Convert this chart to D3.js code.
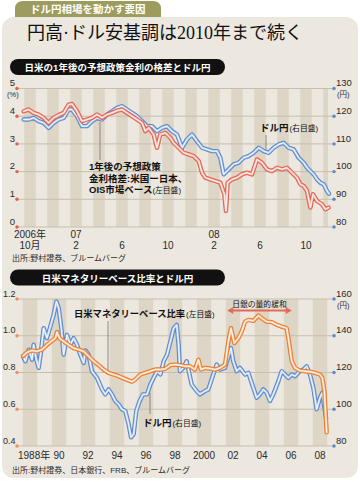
<!DOCTYPE html>
<html><head><meta charset="utf-8">
<script src="https://cdn.jsdelivr.net/npm/d3@7"></script>
<style>body{margin:0;background:#fff;} svg{display:block;}</style>
</head><body><svg id="c" width="360" height="482"></svg>
<script>
// ---------- Chart 1 data (months since Oct 2006) ----------
const rateMonths = [-0.55,-0.12,0.32,0.75,1.19,1.62,2.06,2.49,2.93,3.36,3.65,4.09,4.52,4.96,5.39,5.83,6.26,6.70,7.13,7.57,8.00,8.43,8.87,9.30,9.74,10.03,10.32,10.75,11.04,11.33,11.77,12.2,12.49,12.93,13.36,13.8,14.23,14.67,14.96,15.25,15.68,16.12,16.55,16.9,17.04,17.19,17.57,18.0,18.43,18.87,19.3,19.74,20.17,20.61,21.04,21.48,21.91,22.35,22.78,23.22,23.51,23.8,24.09,24.38,24.61,24.96,25.39,25.68,25.97];
const rateDiff = [4.18,4.24,4.12,4.06,3.94,3.76,3.94,4.04,4.12,4.42,4.44,4.18,3.82,3.88,3.94,4.06,3.94,4.06,4.12,4.2,4.24,4.12,4.0,3.88,3.76,3.46,3.58,3.34,2.86,3.34,3.4,3.22,3.04,2.86,2.68,2.62,2.56,2.38,1.96,1.78,1.72,1.66,1.6,1.18,0.58,1.6,1.72,1.78,1.9,1.96,1.9,2.44,2.32,2.08,2.02,2.14,2.08,2.14,1.96,1.78,1.54,1.48,1.3,0.7,1.18,0.94,0.82,0.64,0.7];
const yenMonths = [-0.55,-0.12,0.32,0.75,1.19,1.62,2.06,2.49,2.93,3.36,3.65,4.09,4.52,4.96,5.39,5.83,6.26,6.70,7.13,7.57,8.00,8.43,8.87,9.30,9.74,10.17,10.61,11.04,11.48,11.91,12.35,12.78,13.22,13.65,14.09,14.52,14.96,15.39,15.83,16.26,16.55,16.84,17.28,17.71,18.14,18.58,19.01,19.45,19.88,20.32,20.75,21.19,21.62,22.06,22.49,22.93,23.36,23.8,24.09,24.38,24.67,24.96,25.25,25.54,25.83,26.0];
const usdJpy1 = [118.8,118.8,119.4,118.2,117.6,115.8,117.6,118.8,119.4,122.4,122.4,120,116.4,116.4,118.2,119.4,118.8,120.6,121.8,123,123.6,122.4,121.2,120,118.2,116.4,116.4,114.6,115.8,116.4,114.6,113.4,108.6,111.6,113.4,111,108.6,108,107.4,107.4,105,99,100.8,102.6,103.2,105,105.6,106.8,108.6,107.4,106.8,108.6,109.8,110.4,108.6,108,105,103.2,101.4,100.2,99,97.2,96,95.4,93,92];
const xTicks1 = [0,4,8,12,16,20,24];
const xTop1 = ["2006年","07","","","08","",""];
const xBottom1 = ["10月","2","6","10","2","6","10"];
const leftTicks1 = [0,1,2,3,4,5];
const rightTicks1 = [80,90,100,110,120,130];

// ---------- Chart 2 data (decimal years) ----------
const baseYears = [1988.02,1988.29,1988.64,1988.98,1989.33,1989.67,1990.02,1990.25,1990.36,1990.55,1990.82,1991.17,1991.51,1991.86,1992.2,1992.55,1992.89,1993.24,1993.58,1993.92,1994.27,1994.61,1994.96,1995.3,1995.53,1995.76,1996.11,1996.45,1996.8,1997.14,1997.49,1997.83,1998.18,1998.5,1998.84,1999.19,1999.53,1999.88,2000.11,2000.29,2000.57,2000.91,2001.26,2001.6,2001.95,2002.18,2002.36,2002.59,2002.87,2003.1,2003.33,2003.56,2003.9,2004.25,2004.48,2004.82,2005.17,2005.51,2005.86,2006.2,2006.32,2006.55,2006.78,2007.12,2007.47,2007.81,2008.16,2008.5,2008.66,2008.8,2008.89,2008.96];
const baseRatio = [0.89,0.91,0.92,0.915,0.925,0.95,0.973,0.987,1.02,0.984,0.97,0.95,0.933,0.924,0.915,0.888,0.861,0.84,0.816,0.798,0.789,0.78,0.768,0.757,0.75,0.762,0.789,0.798,0.807,0.816,0.816,0.82,0.84,0.843,0.84,0.834,0.834,0.816,0.87,0.816,0.825,0.822,0.816,0.825,0.843,0.969,1.041,0.96,0.987,1.023,1.077,1.086,1.081,1.11,1.095,1.077,1.074,1.06,1.05,1.041,0.987,0.861,0.825,0.81,0.807,0.804,0.798,0.789,0.771,0.7,0.573,0.474];
const yenYears = [1988.02,1988.18,1988.41,1988.64,1988.75,1988.94,1989.1,1989.26,1989.44,1989.67,1989.9,1990.13,1990.32,1990.48,1990.66,1990.82,1991.05,1991.28,1991.51,1991.74,1991.97,1992.2,1992.32,1992.54,1992.77,1993.12,1993.47,1993.69,1993.92,1994.15,1994.38,1994.61,1994.84,1995.07,1995.3,1995.47,1995.65,1995.83,1996.06,1996.29,1996.57,1996.8,1997.03,1997.26,1997.49,1997.72,1997.95,1998.18,1998.41,1998.62,1998.75,1998.84,1999.07,1999.3,1999.65,1999.99,2000.22,2000.57,2000.8,2001.14,2001.37,2001.6,2001.95,2002.18,2002.36,2002.52,2002.75,2002.98,2003.33,2003.56,2003.9,2004.13,2004.36,2004.59,2004.82,2005.05,2005.28,2005.63,2005.86,2006.09,2006.32,2006.55,2006.78,2007.12,2007.35,2007.58,2007.81,2008.04,2008.27,2008.5,2008.66,2008.8,2008.92];
const usdJpy2 = [128.8,126.1,132.4,127,135.1,127,122.5,131.5,144.1,138.7,145,151.4,158.6,155,144.1,129.7,140.5,135.1,138.7,135.1,129.7,125.2,132,129.7,120.7,117.1,110.8,108.1,110.8,108.1,104.5,102.7,100,99.1,91.9,84.7,86.5,99.1,104.5,108.1,108.1,113.5,117.1,120.7,118.9,126.1,129.7,136.9,144.1,145.9,135,120.7,122.5,126.1,113.5,109.9,108.1,109.9,110.8,118.9,124.3,121.6,122.5,128.8,133.3,126.1,120.7,122.5,118.9,119.8,111.7,106.3,108.1,110.8,109,104.5,108.1,115.3,120.7,118.9,117.1,118.9,118,120.7,121.6,123.4,118.9,111.7,100,106.3,109,101,95];
const xTickYears2 = [1988,1990,1992,1994,1996,1998,2000,2002,2004,2006,2008];
const xLabels2 = ["1988年","90","92","94","96","98","2000","02","04","06","08"];
const leftTicks2 = [0.4,0.6,0.8,1.0,1.2];
const rightTicks2 = [80,100,120,140,160];
const qeSpan = [2002.1, 2006.55];

// ---------- drawing ----------
const FONT = '"Liberation Sans","Noto Sans CJK JP",sans-serif';
const svg = d3.select("#c").style("font-family", FONT);
const C = {panel:"#ece7df", band:"#ddd5c5", grid:"#c7bfae", red:"#e35f4d", redPale:"#f3b5aa",
  blue:"#5b87c9", bluePale:"#b3cbec", orange:"#ec7a2b", orangePale:"#f7c39a", text:"#2b2b2b"};

svg.append("rect").attr("x",2).attr("y",17).attr("width",356).attr("height",461).attr("rx",12).attr("fill",C.panel);
svg.append("path").attr("d","M15,17 L15,9 Q15,1 23,1 L153,1 Q161,1 161,9 L161,17 Z").attr("fill","#9d9c5e");
svg.append("text").attr("x",30).attr("y",13).attr("fill","#fff").attr("font-size",10.5).attr("font-weight",700).text("ドル円相場を動かす要因");
svg.append("text").attr("x",27).attr("y",39).attr("fill","#111").attr("font-size",18)
  .style("font-family",'"Liberation Serif","Noto Sans CJK JP",serif').text("円高·ドル安基調は2010年まで続く");

function headerBar(y, label) {
  svg.append("rect").attr("x",10).attr("y",y).attr("width",215).attr("height",16).attr("rx",8).attr("fill","#111");
  svg.append("text").attr("x",117.5).attr("y",y+12).attr("text-anchor","middle").attr("fill","#fff")
    .attr("font-size",9.5).attr("font-weight",700).text(label);
}
headerBar(59, "日米の1年後の予想政策金利の格差とドル円");
headerBar(269.5, "日米マネタリーベース比率とドル円");

function doubleLine(g, data, x, y, col, pale) {
  const line = d3.line().x(d => x(d[0])).y(d => y(d[1]));
  [[col,4.4],[pale,2.4],["#fff",0.9]].forEach(([c,w]) => {
    g.append("path").datum(data).attr("d",line).attr("fill","none").attr("stroke",c)
      .attr("stroke-width",w).attr("stroke-linejoin","round").attr("stroke-linecap","round");
  });
}

function tickLabels(g, ticks, y, fmt, x, anchor, size, dotX, dotColor, unit, unitX, unitDy) {
  ticks.forEach((t, i) => {
    g.append("circle").attr("cx",dotX).attr("cy",y(t)).attr("r",1.7).attr("fill",dotColor);
    const txt = g.append("text").attr("font-size",size).attr("fill",C.text);
    txt.append("tspan").attr("x",x).attr("y",y(t)-2.3).attr("text-anchor",anchor).text(fmt(t));
    if (unit && i === ticks.length - 1)
      txt.append("tspan").attr("x",unitX).attr("y",y(t)+unitDy).attr("text-anchor","start").attr("font-size",7.5).text(unit);
  });
}

// ----- Chart 1 -----
const x1 = d3.scaleLinear().domain([0,26]).range([30,329]);
const yL1 = d3.scaleLinear().domain([0,5]).range([227,88.5]);
const yR1 = d3.scaleLinear().domain([80,130]).range([227,88.5]);
const g1 = svg.append("g");
d3.range(-1,27).filter(m => m % 2 === 0).forEach(m => {
  const a = Math.max(17, x1(m-0.5)), b = Math.min(328, x1(m+0.5));
  if (b > a) g1.append("rect").attr("x",a).attr("y",yL1(5)).attr("width",b-a).attr("height",yL1(0)-yL1(5)).attr("fill",C.band);
});
leftTicks1.forEach(t => g1.append("line").attr("x1",17).attr("x2",334).attr("y1",yL1(t)).attr("y2",yL1(t)).attr("stroke",C.grid).attr("stroke-width",1));
g1.append("line").attr("x1",100).attr("x2",100).attr("y1",yL1(3.8)).attr("y2",160).attr("stroke","#777").attr("stroke-width",0.8);
g1.append("line").attr("x1",266).attr("x2",266).attr("y1",135).attr("y2",yR1(107)).attr("stroke","#777").attr("stroke-width",0.8);
doubleLine(g1, d3.zip(yenMonths, usdJpy1), x1, yR1, C.blue, C.bluePale);
doubleLine(g1, d3.zip(rateMonths, rateDiff), x1, yL1, C.red, C.redPale);
tickLabels(g1, leftTicks1, yL1, d3.format("d"), 15, "end", 9.5, 17, C.red, "(%)", 7, 8);
tickLabels(g1, rightTicks1, yR1, d3.format("d"), 336, "start", 9.5, 334, C.blue, "(円)", 337, 8);
xTicks1.forEach((t,i) => {
  const txt = g1.append("text").attr("text-anchor","middle").attr("font-size",10).attr("fill",C.text);
  if (xTop1[i]) txt.append("tspan").attr("x",x1(t)).attr("y",237.5).text(xTop1[i]);
  txt.append("tspan").attr("x",x1(t)).attr("y",249).text(xBottom1[i]);
});
g1.append("text").attr("x",12).attr("y",261).attr("font-size",8).attr("fill",C.text).text("出所:野村證券、ブルームバーグ");
const a1 = g1.append("text").attr("font-size",9.5).attr("font-weight",700).attr("fill","#111");
a1.append("tspan").attr("x",89).attr("y",170).text("1年後の予想政策");
a1.append("tspan").attr("x",89).attr("y",181.5).text("金利格差:米国ー日本、");
a1.append("tspan").attr("x",89).attr("y",193).text("OIS市場ベース");
a1.append("tspan").attr("font-weight",400).attr("font-size",7.8).text("(左目盛)");
const a2 = g1.append("text").attr("x",260).attr("y",131).attr("font-size",9.5).attr("font-weight",700).attr("fill","#111");
a2.append("tspan").text("ドル円");
a2.append("tspan").attr("font-weight",400).attr("font-size",7.8).attr("dx",1).text("(右目盛)");

// ----- Chart 2 -----
const x2 = d3.scaleLinear().domain([1988,2009]).range([22.75,327.25]);
const yL2 = d3.scaleLinear().domain([0.4,1.2]).range([446,299]);
const yR2 = d3.scaleLinear().domain([80,160]).range([446,299]);
const g2 = svg.append("g");
d3.range(1988,2009,2).forEach(yr => {
  const a = Math.max(17, x2(yr)), b = Math.min(328, x2(yr+1));
  g2.append("rect").attr("x",a).attr("y",yL2(1.2)).attr("width",b-a).attr("height",yL2(0.4)-yL2(1.2)).attr("fill",C.band);
});
leftTicks2.forEach(t => g2.append("line").attr("x1",17).attr("x2",334).attr("y1",yL2(t)).attr("y2",yL2(t)).attr("stroke",C.grid).attr("stroke-width",1));
g2.append("line").attr("x1",108).attr("x2",108).attr("y1",321).attr("y2",yL2(0.8)).attr("stroke","#777").attr("stroke-width",0.8);
g2.append("line").attr("x1",150).attr("x2",150).attr("y1",yR2(109)).attr("y2",414).attr("stroke","#777").attr("stroke-width",0.8);
doubleLine(g2, d3.zip(yenYears, usdJpy2), x2, yR2, C.blue, C.bluePale);
doubleLine(g2, d3.zip(baseYears, baseRatio), x2, yL2, C.orange, C.orangePale);
tickLabels(g2, leftTicks2, yL2, d3.format(".1f"), 15.5, "end", 9, 17, "#ef8f62", null);
tickLabels(g2, rightTicks2, yR2, d3.format("d"), 336, "start", 9.5, 334, C.blue, "(円)", 337, 9);
xTickYears2.forEach((yr,i) => {
  const t = g2.append("text").attr("y",459).attr("font-size",10).attr("fill",C.text).text(xLabels2[i]);
  if (i === 0) t.attr("x",x2(yr+0.5)-12); else t.attr("x",x2(yr+0.5)).attr("text-anchor","middle");
});
g2.append("text").attr("x",12).attr("y",473).attr("font-size",8).attr("fill",C.text).text("出所:野村證券、日本銀行、FRB、ブルームバーグ");
const b1 = g2.append("text").attr("x",74).attr("y",317).attr("font-size",9.3).attr("font-weight",700).attr("fill","#111");
b1.append("tspan").text("日米マネタリーベース比率");
b1.append("tspan").attr("font-weight",400).attr("font-size",7.8).attr("dx",1).text("(左目盛)");
const b2 = g2.append("text").attr("x",143).attr("y",426).attr("font-size",9.5).attr("font-weight",700).attr("fill","#111");
b2.append("tspan").text("ドル円");
b2.append("tspan").attr("font-weight",400).attr("font-size",7.8).attr("dx",1).text("(右目盛)");
const qa = x2(qeSpan[0]), qb = x2(qeSpan[1]), qy = 310.5;
g2.append("line").attr("x1",qa+4).attr("x2",qb-4).attr("y1",qy).attr("y2",qy).attr("stroke","#e46a57").attr("stroke-width",2.2);
g2.append("path").attr("d",`M${qa},${qy} L${qa+6},${qy-3.5} L${qa+6},${qy+3.5} Z`).attr("fill","#e46a57");
g2.append("path").attr("d",`M${qb},${qy} L${qb-6},${qy-3.5} L${qb-6},${qy+3.5} Z`).attr("fill","#e46a57");
g2.append("text").attr("x",(qa+qb)/2).attr("y",306.5).attr("text-anchor","middle").attr("font-size",7.8).attr("fill","#111").text("日銀の量的緩和");
</script></body></html>
